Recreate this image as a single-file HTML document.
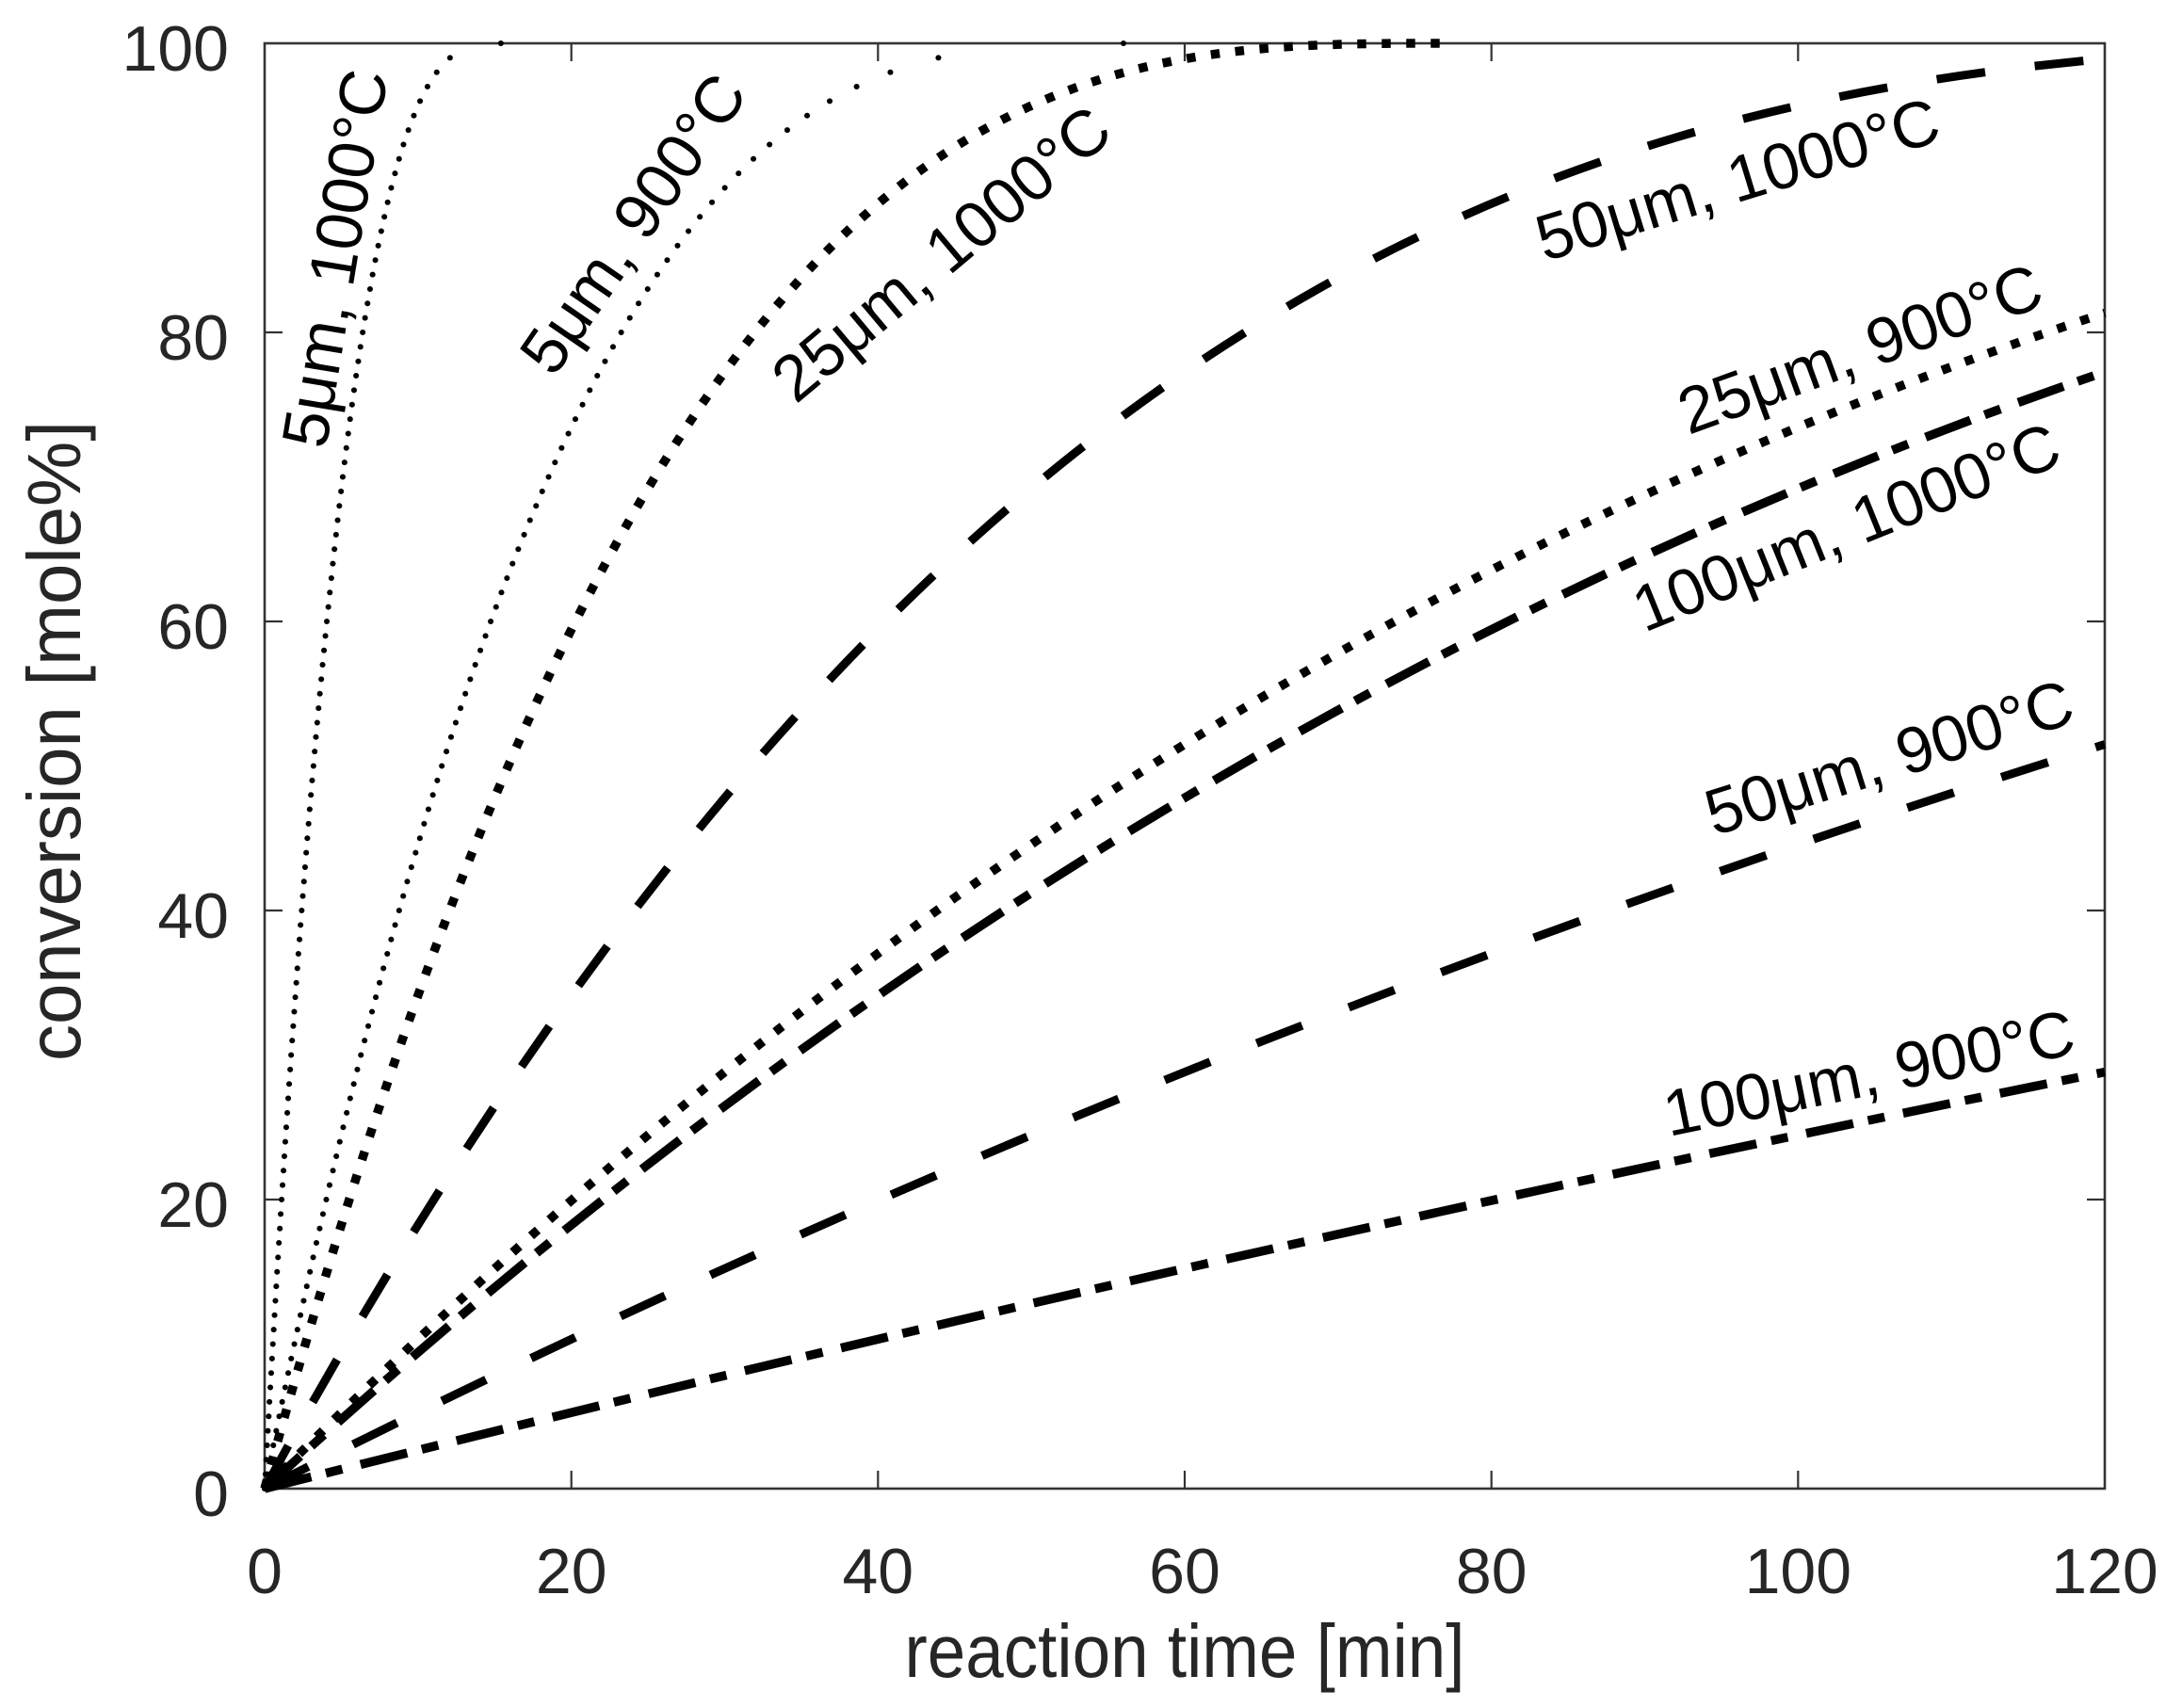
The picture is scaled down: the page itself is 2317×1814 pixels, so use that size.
<!DOCTYPE html>
<html>
<head>
<meta charset="utf-8">
<style>
  html, body { margin: 0; padding: 0; background: #ffffff; }
  svg { display: block; }
  text { font-family: "Liberation Sans", Arial, Helvetica, sans-serif; }
</style>
</head>
<body>
<svg width="2317" height="1814" viewBox="0 0 2317 1814" xmlns="http://www.w3.org/2000/svg">
  <rect x="0" y="0" width="2317" height="1814" fill="#ffffff"/>

  <!-- axes box -->
  <rect x="281" y="46" width="1954" height="1535" fill="none" stroke="#333333" stroke-width="2.6"/>
  <!-- ticks -->
  <g stroke="#333333" stroke-width="2.2" fill="none">
    <path d="M606.7 1581V1562M932.3 1581V1562M1258 1581V1562M1583.7 1581V1562M1909.3 1581V1562"/>
    <path d="M606.7 46V65M932.3 46V65M1258 46V65M1583.7 46V65M1909.3 46V65"/>
    <path d="M281 1274H300M281 967H300M281 660H300M281 353H300"/>
    <path d="M2235 1274H2216M2235 967H2216M2235 660H2216M2235 353H2216"/>
  </g>

  <!-- y tick labels -->
  <g font-size="68" fill="#262626" text-anchor="end">
    <text x="243" y="1610">0</text>
    <text x="243" y="1303">20</text>
    <text x="243" y="996">40</text>
    <text x="243" y="689">60</text>
    <text x="243" y="382">80</text>
    <text x="243" y="75">100</text>
  </g>
  <!-- x tick labels -->
  <g font-size="68" fill="#262626" text-anchor="middle">
    <text x="281" y="1692">0</text>
    <text x="606.7" y="1692">20</text>
    <text x="932.3" y="1692">40</text>
    <text x="1258" y="1692">60</text>
    <text x="1583.7" y="1692">80</text>
    <text x="1909.3" y="1692">100</text>
    <text x="2235" y="1692">120</text>
  </g>

  <!-- axis labels -->
  <text x="1258" y="1781" font-size="80" fill="#262626" text-anchor="middle" textLength="595" lengthAdjust="spacingAndGlyphs">reaction time [min]</text>
  <text transform="translate(85,787) rotate(-90)" font-size="80" fill="#262626" text-anchor="middle" textLength="680" lengthAdjust="spacingAndGlyphs">conversion [mole%]</text>

  <!-- curves -->
  <g fill="none" stroke="#000000">
    <path d="M281,1581 C932.3,1416.5 1583.7,1269.7 2235,1138.6" stroke-width="9.5" stroke-dasharray="51 16 18 20"/>
    <path d="M281,1581 C932.3,982.9 1583.7,617.9 2235,395.1" stroke-width="9.5" stroke-dasharray="51 16 18 20"/>
    <path d="M281,1581 C932.3,1252.1 1583.7,993.6 2235,790.6" stroke-width="9" stroke-dasharray="52 53"/>
    <path d="M281,1581 C932.3,384.9 1583.7,120.8 2235,62.5" stroke-width="9" stroke-dasharray="52 53"/>
    <path d="M281,1581 C932.3,923.1 1583.7,547.2 2235,332.4" stroke-width="9.5" stroke-dasharray="9.5 16.5"/>
    <path d="M281,1581 C698.9,46 1116.9,46 1534.8,46" stroke-width="9.5" stroke-dasharray="9.5 16.5"/>
  </g>

  <!-- 5um 900C dots -->
  <path fill="none" stroke="#000" stroke-width="6" stroke-linecap="round" d="M281.0 1581h0.1M284.1 1565.65h0.1M287.1 1550.3h0.1M290.2 1534.95h0.1M293.3 1519.6h0.1M296.5 1504.25h0.1M299.6 1488.9h0.1M302.8 1473.55h0.1M306.0 1458.2h0.1M309.2 1442.85h0.1M312.5 1427.5h0.1M315.8 1412.15h0.1M319.0 1396.8h0.1M322.4 1381.45h0.1M325.7 1366.1h0.1M329.1 1350.75h0.1M332.5 1335.4h0.1M335.9 1320.05h0.1M339.4 1304.7h0.1M342.9 1289.35h0.1M346.4 1274h0.1M349.9 1258.65h0.1M353.5 1243.3h0.1M357.1 1227.95h0.1M360.7 1212.6h0.1M364.4 1197.25h0.1M368.1 1181.9h0.1M371.8 1166.55h0.1M375.6 1151.2h0.1M379.4 1135.85h0.1M383.2 1120.5h0.1M387.1 1105.15h0.1M391.0 1089.8h0.1M395.0 1074.45h0.1M399.0 1059.1h0.1M403.0 1043.75h0.1M407.1 1028.4h0.1M411.2 1013.05h0.1M415.3 997.7h0.1M419.5 982.35h0.1M423.8 967h0.1M428.1 951.65h0.1M432.4 936.3h0.1M436.8 920.95h0.1M441.3 905.6h0.1M445.8 890.25h0.1M450.3 874.9h0.1M454.9 859.55h0.1M459.6 844.2h0.1M464.3 828.85h0.1M469.1 813.5h0.1M474.0 798.15h0.1M478.9 782.8h0.1M483.9 767.45h0.1M489.0 752.1h0.1M494.1 736.75h0.1M499.3 721.4h0.1M504.6 706.05h0.1M510.0 690.7h0.1M515.5 675.35h0.1M521.0 660h0.1M526.7 644.65h0.1M532.4 629.3h0.1M538.3 613.95h0.1M544.2 598.6h0.1M550.3 583.25h0.1M556.5 567.9h0.1M562.7 552.55h0.1M569.2 537.2h0.1M575.7 521.85h0.1M582.5 506.5h0.1M589.3 491.15h0.1M596.3 475.8h0.1M603.5 460.45h0.1M610.9 445.1h0.1M618.5 429.75h0.1M626.2 414.4h0.1M634.2 399.05h0.1M642.4 383.7h0.1M650.9 368.35h0.1M659.6 353h0.1M668.7 337.65h0.1M678.0 322.3h0.1M687.7 306.95h0.1M697.9 291.6h0.1M708.4 276.25h0.1M719.4 260.9h0.1M731.0 245.55h0.1M743.1 230.2h0.1M756.0 214.85h0.1M769.6 199.5h0.1M784.2 184.15h0.1M800.0 168.8h0.1M817.1 153.45h0.1M835.9 138.1h0.1M857.0 122.75h0.1M881.0 107.4h0.1M909.6 92.05h0.1M945.4 76.7h0.1M996.4 61.35h0.1M1192.9 46h0.1"/>

  <!-- 5um 1000C dots -->
  <path fill="none" stroke="#000" stroke-width="6" stroke-linecap="round" d="M281.0 1581h0.1M281.9 1565.65h0.1M282.7 1550.3h0.1M283.6 1534.95h0.1M284.4 1519.6h0.1M285.3 1504.25h0.1M286.1 1488.9h0.1M287.0 1473.55h0.1M287.9 1458.2h0.1M288.8 1442.85h0.1M289.7 1427.5h0.1M290.6 1412.15h0.1M291.5 1396.8h0.1M292.4 1381.45h0.1M293.3 1366.1h0.1M294.2 1350.75h0.1M295.2 1335.4h0.1M296.1 1320.05h0.1M297.1 1304.7h0.1M298.0 1289.35h0.1M299.0 1274h0.1M300.0 1258.65h0.1M301.0 1243.3h0.1M301.9 1227.95h0.1M302.9 1212.6h0.1M303.9 1197.25h0.1M305.0 1181.9h0.1M306.0 1166.55h0.1M307.0 1151.2h0.1M308.1 1135.85h0.1M309.1 1120.5h0.1M310.2 1105.15h0.1M311.3 1089.8h0.1M312.4 1074.45h0.1M313.5 1059.1h0.1M314.6 1043.75h0.1M315.7 1028.4h0.1M316.8 1013.05h0.1M318.0 997.7h0.1M319.1 982.35h0.1M320.3 967h0.1M321.5 951.65h0.1M322.7 936.3h0.1M323.9 920.95h0.1M325.1 905.6h0.1M326.3 890.25h0.1M327.6 874.9h0.1M328.8 859.55h0.1M330.1 844.2h0.1M331.4 828.85h0.1M332.8 813.5h0.1M334.1 798.15h0.1M335.4 782.8h0.1M336.8 767.45h0.1M338.2 752.1h0.1M339.6 736.75h0.1M341.1 721.4h0.1M342.5 706.05h0.1M344.0 690.7h0.1M345.5 675.35h0.1M347.0 660h0.1M348.6 644.65h0.1M350.2 629.3h0.1M351.8 613.95h0.1M353.4 598.6h0.1M355.1 583.25h0.1M356.8 567.9h0.1M358.5 552.55h0.1M360.3 537.2h0.1M362.1 521.85h0.1M363.9 506.5h0.1M365.8 491.15h0.1M367.7 475.8h0.1M369.7 460.45h0.1M371.7 445.1h0.1M373.8 429.75h0.1M375.9 414.4h0.1M378.1 399.05h0.1M380.4 383.7h0.1M382.7 368.35h0.1M385.1 353h0.1M387.6 337.65h0.1M390.2 322.3h0.1M392.9 306.95h0.1M395.6 291.6h0.1M398.5 276.25h0.1M401.6 260.9h0.1M404.8 245.55h0.1M408.1 230.2h0.1M411.6 214.85h0.1M415.4 199.5h0.1M419.4 184.15h0.1M423.7 168.8h0.1M428.4 153.45h0.1M433.6 138.1h0.1M439.4 122.75h0.1M446.0 107.4h0.1M453.9 92.05h0.1M463.7 76.7h0.1M477.8 61.35h0.1M531.8 46h0.1"/>

  <!-- curve labels -->
  <g font-size="69" fill="#000000">
    <text transform="translate(346,478) rotate(-80.6)">5μm, 1000°C</text>
    <text transform="translate(588,402) rotate(-55.5)">5μm, 900°C</text>
    <text transform="translate(845,430) rotate(-40)">25μm, 1000°C</text>
    <text transform="translate(1640,278) rotate(-17)">50μm, 1000°C</text>
    <text transform="translate(1793,462) rotate(-20)">25μm, 900°C</text>
    <text transform="translate(1746,672) rotate(-22)">100μm, 1000°C</text>
    <text transform="translate(1820,888) rotate(-17.5)">50μm, 900°C</text>
    <text transform="translate(1772,1207) rotate(-11.5)">100μm, 900°C</text>
  </g>
</svg>
</body>
</html>
